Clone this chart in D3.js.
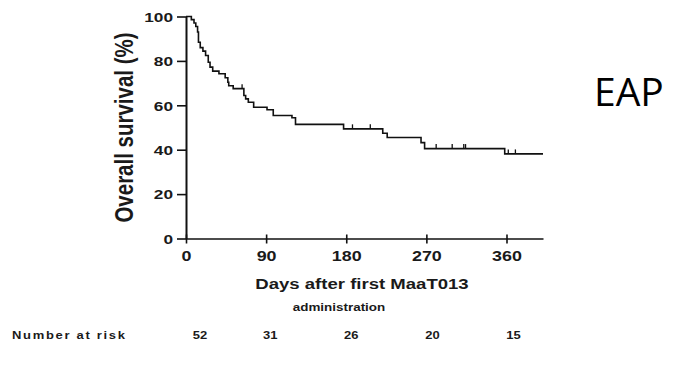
<!DOCTYPE html>
<html>
<head>
<meta charset="utf-8">
<script src="https://cdn.jsdelivr.net/npm/d3@7"></script>
<style>
  body { margin: 0; background: #fff; }
  svg text { font-family: "Liberation Sans", Arial, sans-serif; fill: #1a1a1a; }
</style>
</head>
<body>
<div class="center"></div>
<script>
// Kaplan-Meier steps (day, survival %)
var kmDays = [0, 6, 9, 11, 13, 14, 16, 19, 22, 25, 27, 30, 37, 44, 47, 48, 53, 65, 67, 70, 76, 91, 98, 119, 123, 177, 221, 226, 264, 268, 358];
var kmSurv = [100, 98.6, 97.1, 95.5, 93, 88.4, 86, 84.4, 82.4, 79.4, 77.2, 75.4, 74.2, 72.4, 70.4, 68.8, 67.5, 64.4, 62.9, 61.4, 59.1, 58, 55.4, 54.4, 51.4, 49.4, 47.4, 45.5, 43.2, 40.5, 38.1];
var lastDay = 401;

// censored observations (days)
var censorDays = [63, 187, 207, 281, 299, 312, 314, 362, 370];

// axes ticks
var xTicks = [0, 90, 180, 270, 360];
var yTicks = [0, 20, 40, 60, 80, 100];

// number at risk table
var riskDays = [0, 90, 180, 270, 360];
var riskN = [52, 31, 26, 20, 15];

var W = 679, H = 370;
var sx = 1.28; // the original is stretched horizontally

var svg = d3.select(".center").append("svg")
    .attr("width", W)
    .attr("height", H);

var x = d3.scaleLinear().domain([0, lastDay]).range([186, 543]);
var y = d3.scaleLinear().domain([0, 100]).range([238.5, 16.5]);

// Y axis
var yAxis = svg.append("g")
    .attr("transform", "translate(" + x(0) + ",0)")
    .call(d3.axisLeft(y).tickValues(yTicks).tickSize(9).tickSizeOuter(0));
yAxis.select(".domain").attr("stroke", "#111").attr("stroke-width", 2);
yAxis.selectAll(".tick line").attr("stroke", "#111").attr("stroke-width", 1.6);
yAxis.selectAll(".tick text")
    .attr("x", null)
    .attr("dy", "0.36em")
    .attr("transform", "translate(-13,0) scale(" + sx + ",1)")
    .style("font-size", "13.5px")
    .style("font-weight", "bold");

// X axis
var xAxis = svg.append("g")
    .attr("transform", "translate(0," + y(0) + ")")
    .call(d3.axisBottom(x).tickValues(xTicks).tickSize(5).tickSizeOuter(0));
xAxis.select(".domain").attr("stroke", "#111").attr("stroke-width", 1.6);
xAxis.selectAll(".tick line").attr("y1", -4).attr("stroke", "#111").attr("stroke-width", 1.6);
xAxis.selectAll(".tick text")
    .attr("y", null)
    .attr("dy", null)
    .attr("transform", "translate(0,22) scale(" + sx + ",1)")
    .style("font-size", "14px")
    .style("font-weight", "bold");

// survival curve
var steps = kmDays.map(function(d, i) { return [d, kmSurv[i]]; });
steps.push([lastDay, kmSurv[kmSurv.length - 1]]);

var line = d3.line()
    .x(function(d) { return x(d[0]); })
    .y(function(d) { return y(d[1]); })
    .curve(d3.curveStepAfter);

svg.append("path")
    .datum(steps)
    .attr("fill", "none")
    .attr("stroke", "#111")
    .attr("stroke-width", 1.6)
    .attr("d", line);

// censor marks
var bis = d3.bisector(function(d) { return d; }).right;
function survAt(day) { return kmSurv[bis(kmDays, day) - 1]; }

svg.selectAll(".censor")
    .data(censorDays)
    .enter().append("line")
    .attr("class", "censor")
    .attr("x1", function(d) { return x(d); })
    .attr("x2", function(d) { return x(d); })
    .attr("y1", function(d) { return y(survAt(d)); })
    .attr("y2", function(d) { return y(survAt(d)) - 4.5; })
    .attr("stroke", "#111")
    .attr("stroke-width", 1.3);

// axis titles
svg.append("text")
    .attr("transform", "translate(133," + ((y(0) + y(100)) / 2) + ") scale(1.25,1) rotate(-90)")
    .attr("text-anchor", "middle")
    .style("font-size", "20.5px")
    .style("font-weight", "bold")
    .text("Overall survival (%)");

svg.append("text")
    .attr("transform", "translate(362,289) scale(" + sx + ",1)")
    .attr("text-anchor", "middle")
    .style("font-size", "14.5px")
    .style("font-weight", "bold")
    .text("Days after first MaaT013");

svg.append("text")
    .attr("transform", "translate(339,311) scale(" + sx + ",1)")
    .attr("text-anchor", "middle")
    .style("font-size", "10.5px")
    .style("font-weight", "bold")
    .text("administration");

// number at risk
svg.append("text")
    .attr("transform", "translate(12,339) scale(1.3,1)")
    .style("font-size", "10px")
    .style("font-weight", "bold")
    .style("letter-spacing", "1.3px")
    .text("Number at risk");

svg.selectAll(".risk")
    .data(riskN)
    .enter().append("text")
    .attr("class", "risk")
    .attr("transform", function(d, i) {
      var off = i === 0 ? 14 : 3 + i;
      return "translate(" + (x(riskDays[i]) + off) + ",339) scale(1.3,1)";
    })
    .attr("text-anchor", "middle")
    .style("font-size", "10px")
    .style("font-weight", "bold")
    .text(function(d) { return d; });

// panel label
svg.append("text")
    .attr("x", 594)
    .attr("y", 106)
    .style("font-family", "'Open Sans', sans-serif")
    .style("font-size", "39px")
    .style("fill", "#000")
    .text("EAP");
</script>
</body>
</html>
